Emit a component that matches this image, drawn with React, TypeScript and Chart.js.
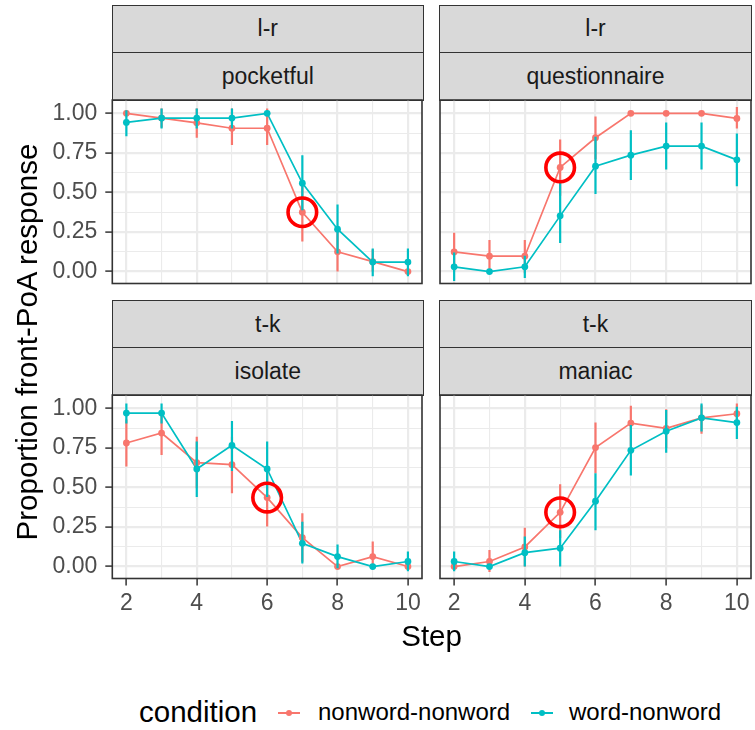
import React, { useEffect, useRef } from "react";
import { Chart, registerables } from "chart.js";

Chart.register(...registerables);

// ---------- data ----------
const steps = [2, 3, 4, 5, 6, 7, 8, 9, 10];
const xTickLabels = [2, 4, 6, 8, 10];
const yTickLabels = [0, 0.25, 0.5, 0.75, 1];
const yGridValues = [0, 0.125, 0.25, 0.375, 0.5, 0.625, 0.75, 0.875, 1];
const conditions = ["nonword-nonword", "word-nonword"];

const contrasts = ["l-r", "l-r", "t-k", "t-k"];
const words = ["pocketful", "questionnaire", "isolate", "maniac"];
const highlightSteps = [7, 5, 6, 5];

// pocketful
const pocketfulNN = [1.0, 0.97, 0.94, 0.906, 0.906, 0.375, 0.125, 0.0625, 0.0];
const pocketfulNNLo = [1.0, 0.91, 0.846, 0.8, 0.8, 0.19, 0.0, 0.0, 0.0];
const pocketfulNNHi = [1.0, 1.03, 1.03, 1.03, 1.03, 0.55, 0.25, 0.14, 0.0];
const pocketfulWN = [0.943, 0.97, 0.97, 0.97, 1.0, 0.559, 0.268, 0.06, 0.06];
const pocketfulWNLo = [0.856, 0.905, 0.905, 0.905, 1.0, 0.388, 0.114, -0.03, -0.03];
const pocketfulWNHi = [1.02, 1.03, 1.03, 1.03, 1.0, 0.736, 0.424, 0.145, 0.145];

// questionnaire
const questNN = [0.124, 0.097, 0.097, 0.658, 0.846, 1.0, 1.0, 1.0, 0.968];
const questNNLo = [0.0, -0.01, -0.01, 0.48, 0.71, 1.0, 1.0, 1.0, 0.905];
const questNNHi = [0.245, 0.2, 0.2, 0.835, 0.98, 1.0, 1.0, 1.0, 1.04];
const questWN = [0.03, 0.0, 0.03, 0.352, 0.666, 0.736, 0.793, 0.793, 0.706];
const questWNLo = [-0.06, 0.0, -0.04, 0.18, 0.49, 0.578, 0.645, 0.645, 0.54];
const questWNHi = [0.12, 0.0, 0.1, 0.578, 0.852, 0.894, 0.943, 0.943, 0.873];

// isolate
const isolateNN = [0.781, 0.844, 0.657, 0.644, 0.436, 0.183, 0.0, 0.063, 0.0];
const isolateNNLo = [0.632, 0.705, 0.495, 0.463, 0.253, 0.03, 0.0, 0.0, 0.0];
const isolateNNHi = [0.93, 0.98, 0.82, 0.82, 0.62, 0.337, 0.0, 0.158, 0.03];
const isolateWN = [0.97, 0.97, 0.617, 0.766, 0.617, 0.147, 0.063, 0.0, 0.032];
const isolateWNLo = [0.905, 0.905, 0.44, 0.604, 0.44, 0.02, -0.01, 0.0, -0.03];
const isolateWNHi = [1.03, 1.03, 0.79, 0.92, 0.79, 0.284, 0.14, 0.0, 0.095];

// maniac
const maniacNN = [0.0, 0.032, 0.124, 0.343, 0.752, 0.907, 0.874, 0.94, 0.966];
const maniacNNLo = [0.0, -0.035, 0.0, 0.18, 0.59, 0.758, 0.75, 0.84, 0.905];
const maniacNNHi = [0.0, 0.105, 0.246, 0.52, 0.91, 1.017, 0.995, 1.02, 1.03];
const maniacWN = [0.032, 0.0, 0.088, 0.116, 0.413, 0.735, 0.855, 0.94, 0.91];
const maniacWNLo = [-0.03, 0.0, 0.0, 0.0, 0.23, 0.575, 0.72, 0.853, 0.806];
const maniacWNHi = [0.095, 0.0, 0.19, 0.23, 0.59, 0.895, 0.99, 1.03, 1.01];

const panelSeries = [
  { nn: pocketfulNN, nnLo: pocketfulNNLo, nnHi: pocketfulNNHi, wn: pocketfulWN, wnLo: pocketfulWNLo, wnHi: pocketfulWNHi },
  { nn: questNN, nnLo: questNNLo, nnHi: questNNHi, wn: questWN, wnLo: questWNLo, wnHi: questWNHi },
  { nn: isolateNN, nnLo: isolateNNLo, nnHi: isolateNNHi, wn: isolateWN, wnLo: isolateWNLo, wnHi: isolateWNHi },
  { nn: maniacNN, nnLo: maniacNNLo, nnHi: maniacNNHi, wn: maniacWN, wnLo: maniacWNLo, wnHi: maniacWNHi },
];

// ---------- style ----------
const RED = "#F8766D";
const CYAN = "#00BFC4";
const FONT = "'Liberation Sans', Arial, Helvetica, sans-serif";
const BORDER = "#333333";
const GRID = "#EBEBEB";
const X_MIN = 1.6;
const X_MAX = 10.4;
const Y_MIN = -0.0755;
const Y_MAX = 1.0845;

// layout of panels in page coordinates
const colLayout = [
  { canvasLeft: 0, canvasWidth: 426, padL: 0, yWidth: 112.3, padR: 2.7 },
  { canvasLeft: 436, canvasWidth: 319, padL: 4, yWidth: 0, padR: 4 },
];
const rowLayout = [
  { canvasTop: 96, canvasHeight: 196, padT: 4, xHeight: 8.5 },
  { canvasTop: 391, canvasHeight: 239, padT: 4, xHeight: 51.5 },
];

function makeDecoPlugin(panelIndex: number) {
  const s = panelSeries[panelIndex];
  return {
    id: "deco" + panelIndex,
    beforeDatasetDraw(chart: any, args: any) {
      const idx = args.index;
      if (idx !== 2 && idx !== 3) return;
      const lo = idx === 2 ? s.nnLo : s.wnLo;
      const hi = idx === 2 ? s.nnHi : s.wnHi;
      const color = idx === 2 ? RED : CYAN;
      const { ctx, chartArea, scales } = chart;
      ctx.save();
      ctx.beginPath();
      ctx.rect(chartArea.left, chartArea.top, chartArea.right - chartArea.left, chartArea.bottom - chartArea.top);
      ctx.clip();
      ctx.strokeStyle = color;
      ctx.lineWidth = 2.2;
      ctx.beginPath();
      for (let i = 0; i < steps.length; i++) {
        const px = scales.x.getPixelForValue(steps[i]);
        ctx.moveTo(px, scales.y.getPixelForValue(lo[i]));
        ctx.lineTo(px, scales.y.getPixelForValue(hi[i]));
      }
      ctx.stroke();
      ctx.restore();
    },
    afterDatasetsDraw(chart: any) {
      const { ctx, chartArea, scales } = chart;
      const hs = highlightSteps[panelIndex];
      const i = steps.indexOf(hs);
      ctx.save();
      ctx.strokeStyle = "#FF0000";
      ctx.lineWidth = 3.6;
      ctx.beginPath();
      ctx.arc(scales.x.getPixelForValue(hs), scales.y.getPixelForValue(s.nn[i]), 14.3, 0, Math.PI * 2);
      ctx.stroke();
      ctx.strokeStyle = BORDER;
      ctx.lineWidth = 1.6;
      ctx.strokeRect(chartArea.left, chartArea.top, chartArea.right - chartArea.left, chartArea.bottom - chartArea.top);
      ctx.restore();
    },
  };
}

function Panel({ index }: { index: number }) {
  const ref = useRef<HTMLCanvasElement>(null);
  const col = colLayout[index % 2];
  const row = rowLayout[Math.floor(index / 2)];
  const isLeft = index % 2 === 0;
  const isBottom = index >= 2;

  useEffect(() => {
    const s = panelSeries[index];
    const pts = (arr: number[]) => steps.map((x, i) => ({ x, y: arr[i] }));
    const chart = new Chart(ref.current as HTMLCanvasElement, {
      type: "line",
      data: {
        datasets: [
          { label: conditions[0], data: pts(s.nn), borderColor: RED, borderWidth: 1.7, pointRadius: 0, fill: false, order: 4 },
          { label: conditions[1], data: pts(s.wn), borderColor: CYAN, borderWidth: 1.7, pointRadius: 0, fill: false, order: 3 },
          { label: conditions[0] + " points", data: pts(s.nn), showLine: false, pointRadius: 3.4, pointBackgroundColor: RED, pointBorderWidth: 0, borderColor: RED, order: 2 },
          { label: conditions[1] + " points", data: pts(s.wn), showLine: false, pointRadius: 3.4, pointBackgroundColor: CYAN, pointBorderWidth: 0, borderColor: CYAN, order: 1 },
        ],
      } as any,
      options: {
        responsive: false,
        maintainAspectRatio: false,
        animation: false,
        events: [],
        layout: { padding: { left: col.padL, right: col.padR, top: row.padT, bottom: 0 } },
        plugins: { legend: { display: false }, tooltip: { enabled: false } },
        scales: {
          x: {
            type: "linear",
            min: X_MIN,
            max: X_MAX,
            afterBuildTicks: (sc: any) => {
              sc.ticks = steps.map((v) => ({ value: v }));
            },
            afterFit: (sc: any) => {
              sc.height = row.xHeight;
              sc.paddingLeft = 0;
              sc.paddingRight = 0;
              sc.paddingTop = 0;
              sc.paddingBottom = 0;
            },
            ticks: {
              display: isBottom,
              autoSkip: false,
              maxRotation: 0,
              padding: 4,
              color: "#4D4D4D",
              font: { family: FONT, size: 23 },
              callback: (v: any) => (xTickLabels.includes(v) ? String(v) : ""),
            },
            grid: {
              color: GRID,
              lineWidth: (c: any) => (c.tick && c.tick.value % 2 === 0 ? 2.2 : 1.1),
              drawTicks: isBottom,
              tickLength: 7,
              tickWidth: 1.5,
              tickColor: (c: any) => (c.tick && xTickLabels.includes(c.tick.value) ? BORDER : "rgba(0,0,0,0)"),
            },
            border: { display: false },
          },
          y: {
            type: "linear",
            min: Y_MIN,
            max: Y_MAX,
            afterBuildTicks: (sc: any) => {
              sc.ticks = yGridValues.map((v) => ({ value: v }));
            },
            afterFit: (sc: any) => {
              sc.width = col.yWidth;
              sc.paddingLeft = 0;
              sc.paddingRight = 0;
              sc.paddingTop = 0;
              sc.paddingBottom = 0;
            },
            ticks: {
              display: isLeft,
              autoSkip: false,
              padding: 8,
              color: "#4D4D4D",
              font: { family: FONT, size: 23 },
              callback: (v: any) => (yTickLabels.includes(v) ? Number(v).toFixed(2) : ""),
            },
            grid: {
              color: GRID,
              lineWidth: (c: any) => (c.tick && yTickLabels.includes(c.tick.value) ? 2.2 : 1.1),
              drawTicks: isLeft,
              tickLength: 7,
              tickWidth: 1.5,
              tickColor: (c: any) => (c.tick && yTickLabels.includes(c.tick.value) ? BORDER : "rgba(0,0,0,0)"),
            },
            border: { display: false },
          },
        },
      } as any,
      plugins: [makeDecoPlugin(index)],
    });
    return () => chart.destroy();
  }, [index]);

  return (
    <canvas
      ref={ref}
      width={col.canvasWidth}
      height={row.canvasHeight}
      style={{ position: "absolute", left: col.canvasLeft, top: row.canvasTop, width: col.canvasWidth, height: row.canvasHeight }}
    />
  );
}

const stripCols = [
  { left: 112.3, width: 311 },
  { left: 440, width: 311 },
];
const stripRows = [
  { top1: 5.7, top2: 52.3, bottom: 100 },
  { top1: 301, top2: 347.7, bottom: 395 },
];

function Strip({ left, top, width, height, text }: any) {
  return (
    <div
      style={{
        position: "absolute",
        left: left - 0.8,
        top: top - 0.8,
        width: width + 1.6,
        height: height + 1.6,
        boxSizing: "border-box",
        border: `1.6px solid ${BORDER}`,
        background: "#D9D9D9",
        color: "#1A1A1A",
        fontFamily: FONT,
        fontSize: 23,
        display: "flex",
        alignItems: "center",
        justifyContent: "center",
      }}
    >
      {text}
    </div>
  );
}

function LegendKey({ left, color }: { left: number; color: string }) {
  return (
    <div style={{ position: "absolute", left, top: 702, width: 22, height: 22 }}>
      <div style={{ position: "absolute", left: 0, top: 10.2, width: 22, height: 1.7, background: color }} />
      <div style={{ position: "absolute", left: 7.6, top: 7.6, width: 6.8, height: 6.8, borderRadius: "50%", background: color }} />
    </div>
  );
}

export default function App() {
  return (
    <div style={{ position: "absolute", left: 0, top: 0, width: 755, height: 730, background: "#FFFFFF", overflow: "hidden" }}>
      {[0, 1, 2, 3].map((i) => {
        const c = stripCols[i % 2];
        const r = stripRows[Math.floor(i / 2)];
        return (
          <React.Fragment key={"s" + i}>
            <Strip left={c.left} top={r.top1} width={c.width} height={r.top2 - r.top1} text={contrasts[i]} />
            <Strip left={c.left} top={r.top2} width={c.width} height={r.bottom - r.top2} text={words[i]} />
          </React.Fragment>
        );
      })}
      {[0, 1, 2, 3].map((i) => (
        <Panel key={"p" + i} index={i} />
      ))}
      <div
        style={{
          position: "absolute",
          left: 27 - 250,
          top: 342 - 18,
          width: 500,
          height: 36,
          lineHeight: "36px",
          textAlign: "center",
          transform: "rotate(-90deg)",
          fontFamily: FONT,
          fontSize: 29.5,
          color: "#000000",
          whiteSpace: "nowrap",
        }}
      >
        Proportion front-PoA response
      </div>
      <div
        style={{
          position: "absolute",
          left: 431.6 - 100,
          top: 636 - 18,
          width: 200,
          height: 36,
          lineHeight: "36px",
          textAlign: "center",
          fontFamily: FONT,
          fontSize: 29.5,
          color: "#000000",
        }}
      >
        Step
      </div>
      <div style={{ position: "absolute", left: 139, top: 712 - 18, height: 36, lineHeight: "36px", fontFamily: FONT, fontSize: 29.5, color: "#000" }}>
        condition
      </div>
      <LegendKey left={278} color={RED} />
      <div style={{ position: "absolute", left: 318, top: 712 - 15, height: 30, lineHeight: "30px", fontFamily: FONT, fontSize: 24, color: "#000", whiteSpace: "nowrap" }}>
        {conditions[0]}
      </div>
      <LegendKey left={531} color={CYAN} />
      <div style={{ position: "absolute", left: 569, top: 712 - 15, height: 30, lineHeight: "30px", fontFamily: FONT, fontSize: 24, color: "#000", whiteSpace: "nowrap" }}>
        {conditions[1]}
      </div>
    </div>
  );
}
